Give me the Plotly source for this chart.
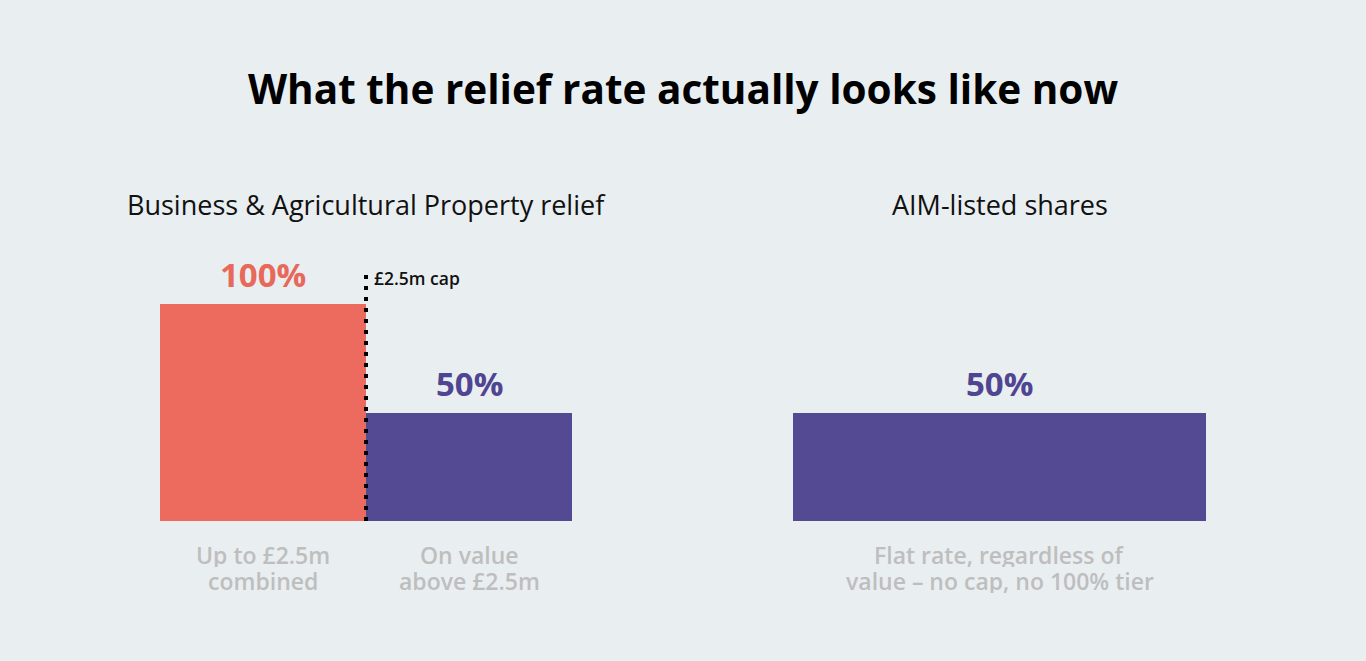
import plotly.graph_objects as go

# left panel: Business & Agricultural Property relief
bpr_cats = ["Up to £2.5m<br>combined", "On value<br>above £2.5m"]
bpr_rates = [100, 50]
bpr_labels = ["100%", "50%"]

# right panel: AIM-listed shares
aim_cats = ["Flat rate, regardless of<br>value – no cap, no 100% tier"]
aim_rates = [50]
aim_labels = ["50%"]

cap_label = "£2.5m cap"
cap_line_top = 115

RED = "#EC6B5E"
PURPLE = "#544A94"
RED_TXT = "#E8685A"
PURPLE_TXT = "#4F4590"
GREY = "#BEBEBE"
BG = "#E9EEF1"
FONT = "Open Sans"

fig = go.Figure()

fig.add_trace(go.Bar(
    x=bpr_cats, y=bpr_rates,
    marker=dict(color=[RED, PURPLE], line=dict(width=0)),
    xaxis="x", yaxis="y", hoverinfo="skip",
))
fig.add_trace(go.Bar(
    x=aim_cats, y=aim_rates,
    marker=dict(color=[PURPLE], line=dict(width=0)),
    xaxis="x2", yaxis="y2", hoverinfo="skip",
))

annotations = []


def add_labels(cats, vals, labs, cols, xref, yref):
    for cat, val, lab, col in zip(cats, vals, labs, cols):
        annotations.append(dict(
            x=cat, y=val, xref=xref, yref=yref, text=lab, showarrow=False,
            yanchor="bottom", yshift=5,
            font=dict(family=FONT, size=33, color=col, weight=700),
        ))
        # category text under the bar, one line at a time for tighter spacing
        for i, line in enumerate(cat.split("<br>")):
            annotations.append(dict(
                x=cat, y=0, xref=xref, yref=yref, text=line, showarrow=False,
                yanchor="middle", yshift=-34 - 26 * i, height=24,
                borderpad=0, valign="middle",
                font=dict(family=FONT, size=23, color=GREY, weight=600),
            ))


add_labels(bpr_cats, bpr_rates, bpr_labels, [RED_TXT, PURPLE_TXT], "x", "y")
add_labels(aim_cats, aim_rates, aim_labels, [PURPLE_TXT], "x2", "y2")

annotations.append(dict(
    x=0.5, y=cap_line_top, xref="x", yref="y", text=cap_label, showarrow=False,
    xanchor="left", yanchor="middle", xshift=6, yshift=-7,
    font=dict(family=FONT, size=17.5, color="#111111", weight=600),
))

annotations.append(dict(
    x=0.5, y=1 - 204 / 661, xref="x domain", yref="paper",
    text="Business & Agricultural Property relief", showarrow=False,
    xanchor="center", yanchor="middle",
    font=dict(family=FONT, size=27, color="#111111"),
))
annotations.append(dict(
    x=0.5, y=1 - 204 / 661, xref="x2 domain", yref="paper",
    text="AIM-listed shares", showarrow=False,
    xanchor="center", yanchor="middle",
    font=dict(family=FONT, size=27, color="#111111"),
))

fig.add_shape(
    type="line", xref="x", yref="y",
    x0=0.5, x1=0.5, y0=0, y1=cap_line_top,
    line=dict(color="#000000", width=4, dash="4px,7px"),
)

axis_common = dict(
    showgrid=False, zeroline=False, showline=False, ticks="",
    showticklabels=False, fixedrange=True,
)
yaxis_common = dict(
    range=[0, 120], domain=[140 / 661, 1 - (521 - 2.17 * 120) / 661],
    visible=False, fixedrange=True,
)

fig.update_layout(
    width=1366, height=661,
    margin=dict(l=0, r=0, t=0, b=0),
    paper_bgcolor=BG, plot_bgcolor=BG,
    showlegend=False,
    bargap=0,
    title=dict(
        text="<b>What the relief rate actually looks like now</b>",
        x=0.5, xanchor="center", y=1 - 90 / 661, yanchor="middle",
        font=dict(family=FONT, size=40.5, color="#000000"),
    ),
    xaxis=dict(domain=[160 / 1366, 572 / 1366], **axis_common),
    xaxis2=dict(domain=[793 / 1366, 1206 / 1366], anchor="y2", **axis_common),
    yaxis=dict(anchor="x", **yaxis_common),
    yaxis2=dict(anchor="x2", **yaxis_common),
    annotations=annotations,
    font=dict(family=FONT),
)

fig.write_html("out.html", config={"displayModeBar": False},
               post_script="document.body.style.margin='0';")
